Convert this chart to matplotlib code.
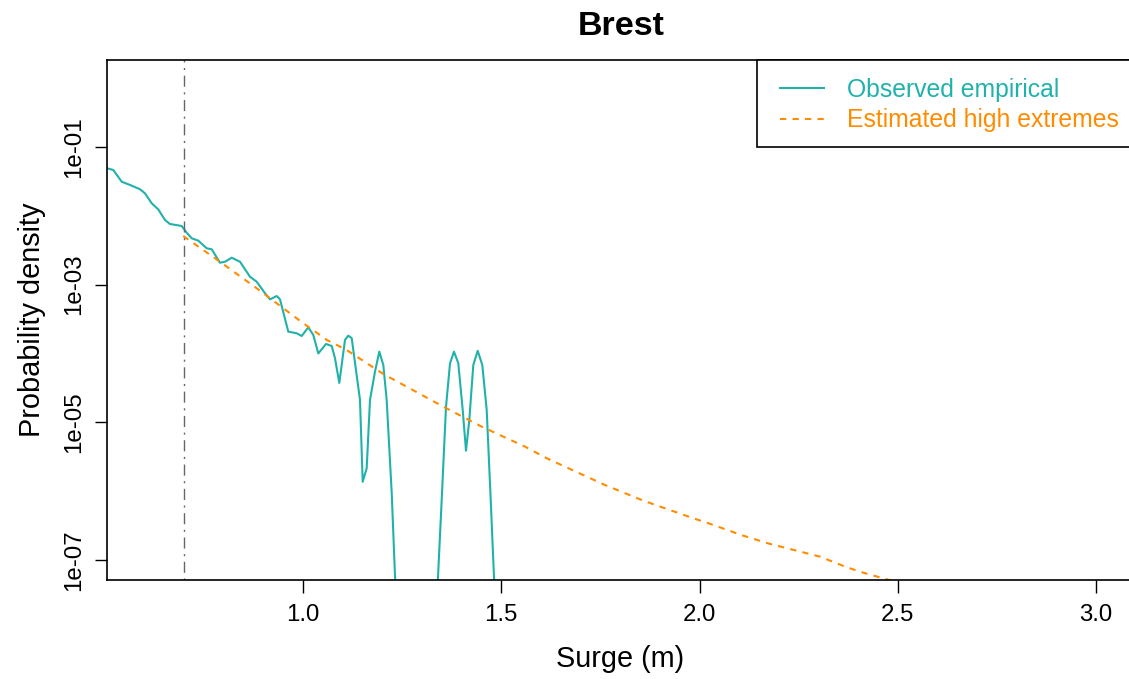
import matplotlib
matplotlib.use("Agg")
import matplotlib.pyplot as plt
from matplotlib.patches import Rectangle

plt.rcParams['font.family'] = ['Liberation Sans', 'DejaVu Sans']

# Observed empirical density
obs_x = [0.5066, 0.5217, 0.5429, 0.5638, 0.5890, 0.6016, 0.6185, 0.6351, 0.6520, 0.6646,
         0.6942, 0.7068, 0.7194, 0.7360, 0.7572, 0.7698, 0.7907, 0.8033, 0.8202, 0.8411,
         0.8664, 0.8833, 0.9042, 0.9168, 0.9337, 0.9420, 0.9629, 0.9841, 0.9967, 1.0134,
         1.0260, 1.0386, 1.0580, 1.0724, 1.0807, 1.0915, 1.1059, 1.1142, 1.1228, 1.1437,
         1.1505, 1.1606, 1.1689, 1.1815, 1.1924, 1.2025, 1.2110, 1.2237, 1.2345, 1.2900,
         1.3375, 1.3497, 1.3606, 1.3707, 1.3807, 1.3916, 1.4027, 1.4110, 1.4193, 1.4294,
         1.4405, 1.4521, 1.4632, 1.4733, 1.4842, 1.5200]
obs_y = [4.90e-2, 4.63e-2, 3.13e-2, 2.81e-2, 2.43e-2, 2.12e-2, 1.52e-2, 1.24e-2, 8.69e-3, 7.60e-3,
         7.11e-3, 5.68e-3, 4.71e-3, 4.35e-3, 3.37e-3, 3.26e-3, 2.08e-3, 2.15e-3, 2.46e-3, 2.15e-3,
         1.30e-3, 1.10e-3, 7.48e-4, 6.11e-4, 6.82e-4, 6.11e-4, 2.07e-4, 1.96e-4, 1.79e-4, 2.39e-4,
         1.85e-4, 9.98e-5, 1.37e-4, 1.28e-4, 8.49e-5, 3.72e-5, 1.57e-4, 1.81e-4, 1.67e-4, 2.10e-5,
         1.36e-6, 2.14e-6, 2.10e-5, 5.42e-5, 1.06e-4, 6.78e-5, 2.10e-5, 9.27e-7, 2.5e-8, 1.0e-9,
         2.5e-8, 7.40e-7, 1.68e-5, 7.18e-5, 1.06e-4, 7.18e-5, 1.50e-5, 3.85e-6, 1.08e-5, 6.78e-5,
         1.09e-4, 6.78e-5, 1.50e-5, 7.40e-7, 2.5e-8, 1.0e-9]

# Estimated high extremes density
est_x = [0.698, 0.7907, 0.8833, 0.9337, 1.0008, 1.0600, 1.1100, 1.2025, 1.3538, 1.4506,
         1.5598, 1.6145, 1.7615, 1.8580, 1.9841, 2.0179, 2.1102, 2.1775, 2.3036, 2.3709,
         2.4128, 2.4717, 2.6000, 3.0000]
est_y = [5.08e-3, 2.15e-3, 8.83e-4, 5.35e-4, 2.74e-4, 1.57e-4, 1.12e-4, 5.02e-5, 1.68e-5, 8.61e-6,
         4.41e-6, 2.99e-6, 1.22e-6, 7.23e-7, 4.01e-7, 3.46e-7, 2.24e-7, 1.70e-7, 1.11e-7, 7.78e-8,
         6.49e-8, 5.20e-8, 3.2e-8, 8.0e-9]

threshold = 0.70
x_ticks = [1.0, 1.5, 2.0, 2.5, 3.0]
x_tick_labels = ["1.0", "1.5", "2.0", "2.5", "3.0"]
y_ticks = [1e-7, 1e-5, 1e-3, 1e-1]
y_tick_labels = ["1e-07", "1e-05", "1e-03", "1e-01"]

teal = "#20B2AA"
orange = "#FF8C00"

W, H = 1129, 679
AX_L, AX_R, AX_T, AX_B = 107, 1147, 60, 580
fig = plt.figure(figsize=(W / 100, H / 100), dpi=100)
# axes extends slightly past the right edge of the figure, as in the reference
ax = fig.add_axes([AX_L / W, 1 - AX_B / H, (AX_R - AX_L) / W, (AX_B - AX_T) / H])

def ax_x(px):
    return (px - AX_L) / (AX_R - AX_L)

def ax_y(py):
    return (AX_B - py) / (AX_B - AX_T)

ax.plot(obs_x, obs_y, color=teal, lw=1.5, label="Observed empirical")
ax.plot(est_x, est_y, color=orange, lw=1.5, linestyle=(0, (3, 3)), label="Estimated high extremes")
ax.axvline(threshold, color="#666666", lw=1.0, linestyle=(0, (1.5, 4, 8, 4)))

ax.set_yscale("log")
ax.set_xlim(0.5058, 1.0 + (AX_R - 303) / 396.6)
ax.set_ylim(5.08e-8, 1.84)
ax.set_xticks(x_ticks)
ax.set_xticklabels(x_tick_labels)
ax.set_yticks(y_ticks)
ax.set_yticklabels(y_tick_labels, rotation=90, va="center")
ax.minorticks_off()
ax.yaxis.set_minor_locator(matplotlib.ticker.NullLocator())
ax.tick_params(axis="both", direction="out", length=9, width=1.0, labelsize=17.3, color="black")
ax.tick_params(axis="x", pad=8)
ax.tick_params(axis="y", pad=7)
for s in ax.spines.values():
    s.set_linewidth(1.2)
    s.set_color("black")

ax.set_xlabel("Surge (m)", fontsize=20.8, labelpad=14)
ax.xaxis.label.set_x(ax_x(620))
ax.set_ylabel("Probability density", fontsize=20.8, labelpad=12)
ax.set_title("Brest", fontsize=24.5, fontweight="bold", pad=18, x=ax_x(621))

leg = ax.legend(loc="upper left", bbox_to_anchor=(ax_x(762), 1.0), borderaxespad=0,
                fontsize=17.8, frameon=False,
                handlelength=1.78, handletextpad=0.93, borderpad=0.72, labelspacing=0.27,
                labelcolor="linecolor")
frame = Rectangle((ax_x(757), ax_y(147)), ax_x(1160) - ax_x(757), 1.0 - ax_y(147),
                  transform=ax.transAxes, facecolor="white", edgecolor="black",
                  linewidth=1.2, clip_on=False, zorder=4)
ax.add_patch(frame)
leg.set_zorder(5)

fig.savefig("out.png", dpi=100)
